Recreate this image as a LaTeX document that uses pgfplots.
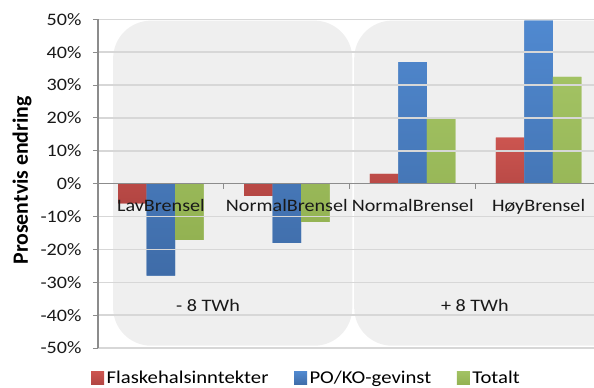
\documentclass[border=0pt]{standalone}
\usepackage{fontspec}
\setmainfont[FakeStretch=1.15]{Carlito}
\newfontfamily\ylabfont{Carlito}
\usepackage{pgfplots}
\pgfplotsset{compat=1.18}
\definecolor{credT}{HTML}{CC5550}
\definecolor{credB}{HTML}{B24542}
\definecolor{cblueT}{HTML}{5089D0}
\definecolor{cblueB}{HTML}{3F6CA8}
\definecolor{cgreenT}{HTML}{A2C263}
\definecolor{cgreenB}{HTML}{93B252}
\definecolor{cred}{HTML}{C0504D}
\definecolor{cblue}{HTML}{4F81BD}
\definecolor{cgreen}{HTML}{9BBB59}
\definecolor{bgpanel}{RGB}{239,239,239}
\definecolor{gridc}{RGB}{215,215,215}
\definecolor{axc}{RGB}{140,140,140}
\pgfplotsset{
  legsq/.style={legend image code/.code={\fill[##1] (0bp,-6.5bp) rectangle (13bp,6.5bp);}},
  /pgfplots/layers/mylayers/.define layer set={axis background,axis grid,bars,axis ticks,axis lines,axis tick labels,main,axis descriptions,axis foreground}{},
}
\begin{document}
\begin{tikzpicture}
\begin{axis}[
  set layers=mylayers,
  at={(0,0)}, anchor=south west,
  scale only axis, width=496bp, height=328.7bp,
  xmin=-0.5, xmax=3.44, ymin=-50, ymax=50,
  axis x line=middle, axis y line=left,
  x axis line style={-, draw=axc, line width=1.2bp},
  y axis line style={-, draw=axc, line width=1.2bp},
  ymajorgrids, major grid style={gridc, line width=1.5bp},
  tick align=outside, major tick length=5bp, minor tick length=5bp,
  ytick={-50,-40,...,50},
  yticklabels={-50\%,-40\%,-30\%,-20\%,-10\%,0\%,10\%,20\%,30\%,40\%,50\%},
  ytick style={draw=axc, line width=1bp},
  xtick={0,1,2,3},
  xticklabels={LavBrensel,NormalBrensel,NormalBrensel,HøyBrensel},
  minor xtick={0.5,1.5,2.5},
  major x tick style={draw=none},
  minor x tick style={draw=axc, line width=1bp},
  tick label style={font=\fontsize{17.5bp}{20bp}\selectfont, text=black!90},
  yticklabel style={xshift=-8bp},
  xticklabel style={anchor=north, yshift=-7bp},
  ylabel={Prosentvis endring},
  ylabel style={font=\ylabfont\fontsize{21.8bp}{26bp}\selectfont\bfseries, at={(axis description cs:-0.153,0.51)}, anchor=center, rotate=0},
  ybar=0pt, bar width=28.5bp,
  legend columns=3,
  legend style={at={(axis description cs:0,0)}, anchor=west, xshift=-7bp, yshift=-30bp,
    draw=none, fill=none, inner sep=0pt, font=\fontsize{18bp}{20bp}\selectfont,
    nodes={inner xsep=2.5bp, inner ysep=1.5bp},
    /tikz/every even column/.append style={column sep=23bp}},
  legend cell align=left,
]
\pgfplotsextra{
  \begin{pgfonlayer}{axis background}
    \fill[bgpanel, rounded corners=38bp] (axis cs:-0.38,49.6) rectangle (axis cs:1.52,-49.3);
    \fill[bgpanel, rounded corners=38bp] (axis cs:1.535,49.6) rectangle (axis cs:3.9,-49.3);
  \end{pgfonlayer}
}
\addplot[fill=cred, top color=credT, bottom color=credB, draw=none, legsq, on layer=bars] coordinates {(0,-6.0) (1,-3.7) (2,3.0) (3,14.0)};
\addplot[fill=cblue, top color=cblueT, bottom color=cblueB, draw=none, legsq, on layer=bars] coordinates {(0,-28.0) (1,-18.0) (2,37.0) (3,49.6)};
\addplot[fill=cgreen, top color=cgreenT, bottom color=cgreenB, draw=none, legsq, on layer=bars] coordinates {(0,-17.1) (1,-11.6) (2,20.0) (3,32.5)};
\legend{Flaskehalsinntekter,PO/KO-gevinst,Totalt}
\node[font=\fontsize{17.5bp}{20bp}\selectfont, text=black!90] at (axis cs:0.374,-37.1) {- 8 TWh};
\node[font=\fontsize{17.5bp}{20bp}\selectfont, text=black!90] at (axis cs:2.494,-37.1) {+ 8 TWh};
\end{axis}
\pgfresetboundingbox
\path[use as bounding box] (-98bp,-40bp) rectangle (496bp,348bp);
\end{tikzpicture}
\end{document}
